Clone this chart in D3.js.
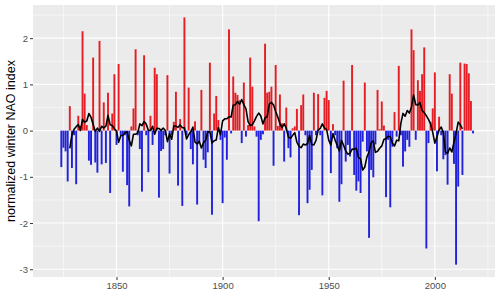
<!DOCTYPE html>
<html><head><meta charset="utf-8">
<script src="https://cdn.jsdelivr.net/npm/d3@7"></script>
<style>body{margin:0;background:#fff}svg{display:block}</style>
</head><body>
<svg id="chart" width="500" height="295"></svg>
<script>
// ---- data (winter NAO index, first three winters missing) ----
const firstYear = 1821;
const naoValues = [
  null, null, null, -0.79, -0.37, -0.45, -1.10, 0.53, -0.81, -0.10,   // 1821-1830
  -1.16, 0.32, 0.10, 2.15, 0.80, 0.12, -0.65, -0.74, 1.58, -0.69,     // 1831-1840
  -0.91, 1.94, -0.73, 0.61, -0.70, 0.82, -1.35, 0.37, 1.22, -0.31,    // 1841-1850
  1.44, -0.10, -0.89, -0.10, -1.18, -1.64, 0.09, 0.48, 1.76, -0.10,   // 1851-1860
  -0.40, -1.32, 1.63, -0.10, -0.90, 0.32, -0.31, 1.36, 1.22, -1.45,   // 1861-1870
  -0.44, -0.40, -0.10, 1.20, -0.93, -0.10, 0.19, 0.84, -1.19, 0.25,   // 1871-1880
  -1.63, 2.45, -0.10, 0.93, -0.40, -0.73, 0.20, -1.60, -0.24, 0.88,   // 1881-1890
  -0.63, -0.81, -0.47, 1.47, -1.82, 0.37, 0.75, 0.23, -0.20, -1.57,   // 1891-1900
  -0.15, -0.63, 2.19, -0.06, 1.17, 0.82, 0.77, 0.66, -0.27, 1.04,     // 1901-1910
  -0.13, 0.12, 1.58, 0.95, 0.09, -0.13, -1.96, -0.20, -0.08, 1.88,    // 1911-1920
  0.82, 0.84, 0.95, -0.76, 1.42, 0.10, 0.78, 0.16, -0.67, 0.50,       // 1921-1930
  -0.38, -0.58, 0.05, 0.09, 0.47, -1.83, 0.55, 0.78, -0.10, -1.57,    // 1931-1940
  -1.28, -0.85, 0.82, -0.10, 0.79, -0.10, -1.40, 0.71, 0.86, 0.66,    // 1941-1950
  -0.92, 0.14, -0.10, -0.38, -1.54, -1.16, 1.08, -0.67, -0.31, -0.56, // 1951-1960
  1.42, -0.96, -1.30, -1.10, -1.35, -0.24, 1.04, -0.45, -2.32, -0.85, // 1961-1970
  -1.01, -0.30, 0.88, 0.03, 0.63, 0.11, -1.44, -0.20, -1.66, -0.35,   // 1971-1980
  0.40, -0.13, 1.40, -0.10, -0.78, -0.45, -0.20, -0.35, 2.19, 1.74,   // 1981-1990
  -0.20, 1.09, 0.86, 1.22, 1.80, -2.55, -0.27, 0.19, 0.48, 1.26,      // 1991-2000
  -0.88, 0.30, -0.10, -0.62, -0.53, -1.17, 1.22, 0.80, -0.72, -2.90,  // 2001-2010
  -1.21, 1.47, -0.96, 1.45, 1.44, 1.24, 0.64, -0.06                   // 2011-2018
];
const xTickYears = [1850, 1900, 1950, 2000];
const xMinorYears = [1825, 1875, 1925, 1975, 2025];
const yTickValues = [-3, -2, -1, 0, 1, 2];
const yMinorValues = [-2.5, -1.5, -0.5, 0.5, 1.5, 2.5];
const yTitle = "normalized winter NAO index";
const runWindowBefore = 4, runWindowAfter = 5; // 10-year running mean

// ---- build ----
const rows = naoValues.map((v, i) => ({year: firstYear + i, value: v}));
const bars = rows.filter(d => d.value !== null);
const running = [];
rows.forEach((d, i) => {
  if (i - runWindowBefore < 0 || i + runWindowAfter >= rows.length) return;
  const win = rows.slice(i - runWindowBefore, i + runWindowAfter + 1);
  if (win.some(w => w.value === null)) return;
  running.push({year: d.year, value: d3.mean(win, w => w.value)});
});

const W = 500, H = 295;
const panel = {left: 33, right: 495, top: 5, bottom: 277};
const barW = 0.9;

function expand(lo, hi) { const e = (hi - lo) * 0.05; return [lo - e, hi + e]; }
const x = d3.scaleLinear()
  .domain(expand(firstYear - barW / 2, firstYear + rows.length - 1 + barW / 2))
  .range([panel.left, panel.right]);
const vals = bars.map(d => d.value).concat([0]);
const y = d3.scaleLinear()
  .domain(expand(d3.min(vals), d3.max(vals)))
  .range([panel.bottom, panel.top]);

const svg = d3.select("#chart");
svg.append("rect").attr("width", W).attr("height", H).attr("fill", "#fff");
svg.append("rect")
  .attr("x", panel.left).attr("y", panel.top)
  .attr("width", panel.right - panel.left).attr("height", panel.bottom - panel.top)
  .attr("fill", "#EBEBEB");

const grid = svg.append("g");
grid.selectAll(".ymin").data(yMinorValues).join("line")
  .attr("x1", panel.left).attr("x2", panel.right)
  .attr("y1", d => y(d)).attr("y2", d => y(d))
  .attr("stroke", "#fff").attr("stroke-width", 0.55);
grid.selectAll(".xmin").data(xMinorYears).join("line")
  .attr("y1", panel.top).attr("y2", panel.bottom)
  .attr("x1", d => x(d)).attr("x2", d => x(d))
  .attr("stroke", "#fff").attr("stroke-width", 0.55);
grid.selectAll(".ymaj").data(yTickValues).join("line")
  .attr("x1", panel.left).attr("x2", panel.right)
  .attr("y1", d => y(d)).attr("y2", d => y(d))
  .attr("stroke", "#fff").attr("stroke-width", 1.1);
grid.selectAll(".xmaj").data(xTickYears).join("line")
  .attr("y1", panel.top).attr("y2", panel.bottom)
  .attr("x1", d => x(d)).attr("x2", d => x(d))
  .attr("stroke", "#fff").attr("stroke-width", 1.1);

const bw = x(firstYear + barW) - x(firstYear);
svg.append("g").selectAll("rect").data(bars).join("rect")
  .attr("x", d => x(d.year) - bw / 2)
  .attr("width", bw)
  .attr("y", d => y(Math.max(0, d.value)))
  .attr("height", d => Math.abs(y(d.value) - y(0)))
  .attr("fill", d => d.value >= 0 ? "#E41E24" : "#2222DD");

svg.append("path").datum(running)
  .attr("d", d3.line().x(d => x(d.year)).y(d => y(d.value)))
  .attr("fill", "none").attr("stroke", "#000").attr("stroke-width", 1.6)
  .attr("stroke-linejoin", "round");

// axes
const xAxis = d3.axisBottom(x).tickValues(xTickYears).tickFormat(d3.format("d")).tickSize(3).tickPadding(2);
const gx = svg.append("g").attr("transform", `translate(0,${panel.bottom})`).call(xAxis);
const yAxis = d3.axisLeft(y).tickValues(yTickValues).tickFormat(d => d < 0 ? "-" + Math.abs(d) : d).tickSize(3).tickPadding(2);
const gy = svg.append("g").attr("transform", `translate(${panel.left},0)`).call(yAxis);
[gx, gy].forEach(g => {
  g.select(".domain").remove();
  g.selectAll(".tick line").attr("stroke", "#333");
  g.selectAll(".tick text").attr("fill", "#4D4D4D")
    .style("font-family", "'Liberation Sans', Arial, sans-serif").style("font-size", "9.5px");
});

svg.append("text")
  .attr("transform", `translate(15,${(panel.top + panel.bottom) / 2}) rotate(-90)`)
  .attr("text-anchor", "middle")
  .style("font-family", "'Liberation Sans', Arial, sans-serif").style("font-size", "12.5px")
  .attr("fill", "#000")
  .text(yTitle);
</script>
</body></html>
